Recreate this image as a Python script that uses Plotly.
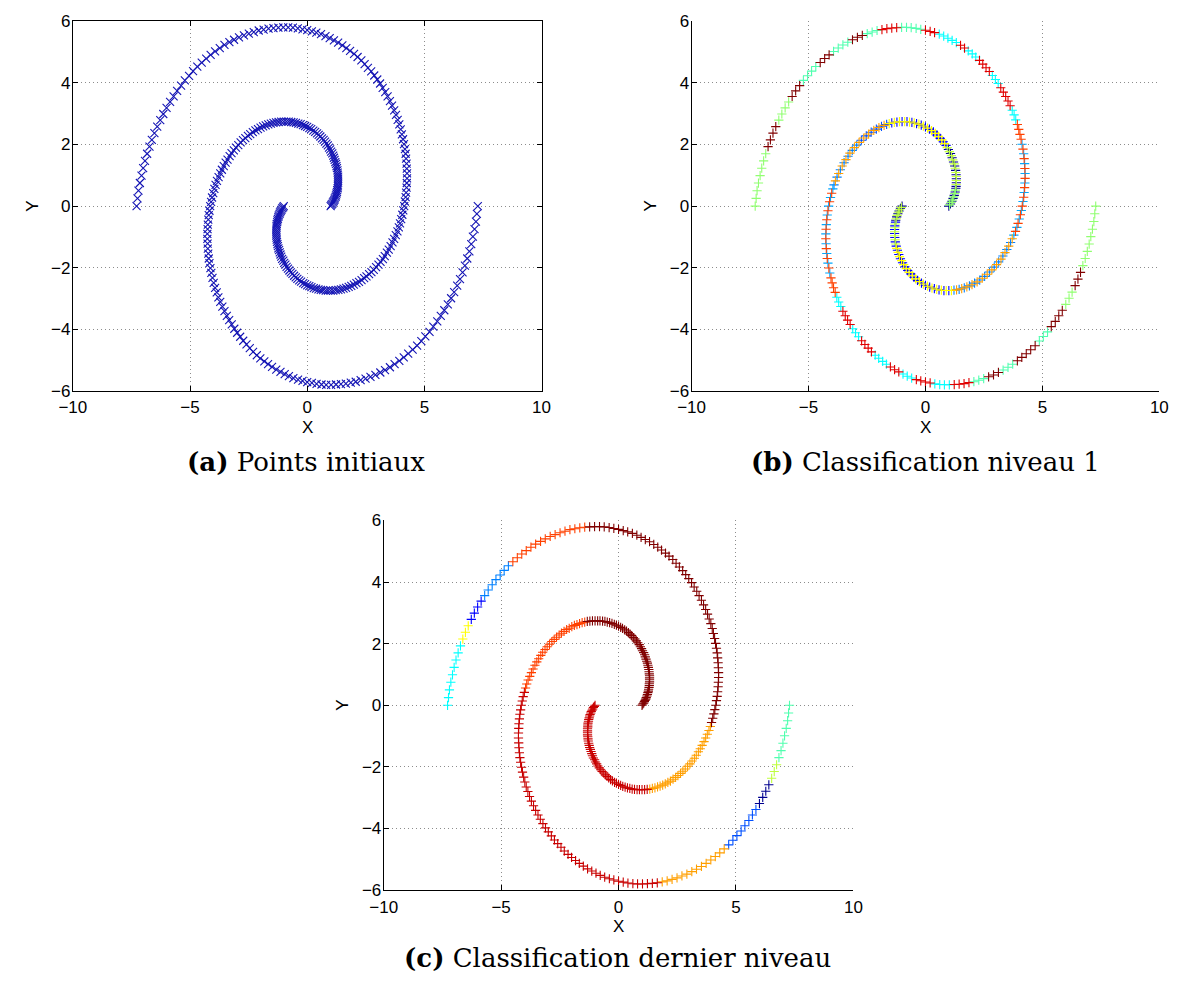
import plotly.graph_objects as go

# ---------------- data ----------------
# Arm 1 : starts near (-1, 0), winds out to (-7.28, 0)
ARM1_X = [
    -1.00, -1.03, -1.07, -1.10, -1.13, -1.16, -1.18, -1.21, -1.23, -1.25,
    -1.27, -1.28, -1.30, -1.31, -1.31, -1.32, -1.32, -1.32, -1.32, -1.31,
    -1.30, -1.29, -1.27, -1.25, -1.23, -1.20, -1.17, -1.14, -1.11, -1.07,
    -1.02, -0.98, -0.93, -0.88, -0.82, -0.76, -0.70, -0.63, -0.56, -0.49,
    -0.42, -0.34, -0.26, -0.17, -0.09, 0.00, 0.09, 0.18, 0.28, 0.38,
    0.48, 0.58, 0.68, 0.79, 0.89, 1.00, 1.11, 1.22, 1.33, 1.44,
    1.55, 1.66, 1.77, 1.88, 1.99, 2.10, 2.21, 2.32, 2.43, 2.53,
    2.64, 2.74, 2.84, 2.94, 3.04, 3.13, 3.23, 3.31, 3.40, 3.48,
    3.56, 3.64, 3.71, 3.78, 3.85, 3.91, 3.96, 4.01, 4.06, 4.10,
    4.14, 4.17, 4.20, 4.22, 4.24, 4.25, 4.26, 4.26, 4.25, 4.24,
    4.22, 4.20, 4.17, 4.13, 4.09, 4.04, 3.99, 3.93, 3.86, 3.79,
    3.71, 3.62, 3.53, 3.43, 3.33, 3.22, 3.11, 2.99, 2.86, 2.73,
    2.59, 2.45, 2.31, 2.15, 2.00, 1.83, 1.67, 1.50, 1.32, 1.14,
    0.96, 0.78, 0.59, 0.39, 0.20, 0.00, -0.20, -0.40, -0.61, -0.81,
    -1.02, -1.23, -1.44, -1.65, -1.86, -2.07, -2.28, -2.49, -2.70, -2.91,
    -3.12, -3.32, -3.53, -3.73, -3.93, -4.12, -4.31, -4.50, -4.69, -4.87,
    -5.04, -5.22, -5.38, -5.55, -5.70, -5.85, -6.00, -6.14, -6.27, -6.40,
    -6.52, -6.63, -6.73, -6.83, -6.92, -7.00, -7.07, -7.14, -7.20, -7.24,
    -7.28,
]
ARM1_Y = [
    0.00, -0.04, -0.07, -0.12, -0.16, -0.20, -0.25, -0.30, -0.35, -0.41,
    -0.46, -0.52, -0.58, -0.64, -0.70, -0.76, -0.83, -0.89, -0.96, -1.02,
    -1.09, -1.16, -1.23, -1.30, -1.37, -1.43, -1.50, -1.57, -1.64, -1.71,
    -1.77, -1.84, -1.90, -1.97, -2.03, -2.09, -2.15, -2.20, -2.26, -2.31,
    -2.36, -2.41, -2.45, -2.50, -2.53, -2.57, -2.60, -2.63, -2.66, -2.68,
    -2.70, -2.72, -2.73, -2.74, -2.74, -2.74, -2.74, -2.73, -2.72, -2.70,
    -2.68, -2.65, -2.62, -2.59, -2.55, -2.50, -2.46, -2.40, -2.34, -2.28,
    -2.21, -2.14, -2.07, -1.98, -1.90, -1.81, -1.72, -1.62, -1.51, -1.41,
    -1.30, -1.18, -1.06, -0.94, -0.82, -0.69, -0.56, -0.42, -0.28, -0.14,
    0.00, 0.15, 0.29, 0.44, 0.60, 0.75, 0.90, 1.06, 1.22, 1.38,
    1.54, 1.70, 1.85, 2.01, 2.17, 2.33, 2.49, 2.65, 2.80, 2.96,
    3.11, 3.26, 3.41, 3.56, 3.70, 3.84, 3.98, 4.11, 4.24, 4.37,
    4.49, 4.61, 4.73, 4.84, 4.94, 5.04, 5.13, 5.22, 5.31, 5.38,
    5.45, 5.52, 5.58, 5.63, 5.67, 5.71, 5.74, 5.77, 5.79, 5.80,
    5.80, 5.79, 5.78, 5.76, 5.73, 5.70, 5.65, 5.60, 5.54, 5.48,
    5.40, 5.32, 5.23, 5.13, 5.02, 4.91, 4.79, 4.66, 4.53, 4.38,
    4.23, 4.08, 3.91, 3.74, 3.56, 3.38, 3.19, 2.99, 2.79, 2.58,
    2.37, 2.15, 1.93, 1.70, 1.47, 1.23, 0.99, 0.75, 0.50, 0.25,
    0.00,
]
# Arm 2 : starts near (1, 0), winds out to (7.28, 0)
ARM2_X = [
    1.00, 1.03, 1.07, 1.10, 1.13, 1.16, 1.18, 1.21, 1.23, 1.25,
    1.27, 1.28, 1.30, 1.31, 1.31, 1.32, 1.32, 1.32, 1.32, 1.31,
    1.30, 1.29, 1.27, 1.25, 1.23, 1.20, 1.17, 1.14, 1.11, 1.07,
    1.02, 0.98, 0.93, 0.88, 0.82, 0.76, 0.70, 0.63, 0.56, 0.49,
    0.42, 0.34, 0.26, 0.17, 0.09, 0.00, -0.09, -0.18, -0.28, -0.38,
    -0.48, -0.58, -0.68, -0.79, -0.89, -1.00, -1.11, -1.22, -1.33, -1.44,
    -1.55, -1.66, -1.77, -1.88, -1.99, -2.10, -2.21, -2.32, -2.43, -2.53,
    -2.64, -2.74, -2.84, -2.94, -3.04, -3.13, -3.23, -3.31, -3.40, -3.48,
    -3.56, -3.64, -3.71, -3.78, -3.85, -3.91, -3.96, -4.01, -4.06, -4.10,
    -4.14, -4.17, -4.20, -4.22, -4.24, -4.25, -4.26, -4.26, -4.25, -4.24,
    -4.22, -4.20, -4.17, -4.13, -4.09, -4.04, -3.99, -3.93, -3.86, -3.79,
    -3.71, -3.62, -3.53, -3.43, -3.33, -3.22, -3.11, -2.99, -2.86, -2.73,
    -2.59, -2.45, -2.31, -2.15, -2.00, -1.83, -1.67, -1.50, -1.32, -1.14,
    -0.96, -0.78, -0.59, -0.39, -0.20, 0.00, 0.20, 0.40, 0.61, 0.81,
    1.02, 1.23, 1.44, 1.65, 1.86, 2.07, 2.28, 2.49, 2.70, 2.91,
    3.12, 3.32, 3.53, 3.73, 3.93, 4.12, 4.31, 4.50, 4.69, 4.87,
    5.04, 5.22, 5.38, 5.55, 5.70, 5.85, 6.00, 6.14, 6.27, 6.40,
    6.52, 6.63, 6.73, 6.83, 6.92, 7.00, 7.07, 7.14, 7.20, 7.24,
    7.28,
]
ARM2_Y = [
    0.00, 0.04, 0.07, 0.12, 0.16, 0.20, 0.25, 0.30, 0.35, 0.41,
    0.46, 0.52, 0.58, 0.64, 0.70, 0.76, 0.83, 0.89, 0.96, 1.02,
    1.09, 1.16, 1.23, 1.30, 1.37, 1.43, 1.50, 1.57, 1.64, 1.71,
    1.77, 1.84, 1.90, 1.97, 2.03, 2.09, 2.15, 2.20, 2.26, 2.31,
    2.36, 2.41, 2.45, 2.50, 2.53, 2.57, 2.60, 2.63, 2.66, 2.68,
    2.70, 2.72, 2.73, 2.74, 2.74, 2.74, 2.74, 2.73, 2.72, 2.70,
    2.68, 2.65, 2.62, 2.59, 2.55, 2.50, 2.46, 2.40, 2.34, 2.28,
    2.21, 2.14, 2.07, 1.98, 1.90, 1.81, 1.72, 1.62, 1.51, 1.41,
    1.30, 1.18, 1.06, 0.94, 0.82, 0.69, 0.56, 0.42, 0.28, 0.14,
    0.00, -0.15, -0.29, -0.44, -0.60, -0.75, -0.90, -1.06, -1.22, -1.38,
    -1.54, -1.70, -1.85, -2.01, -2.17, -2.33, -2.49, -2.65, -2.80, -2.96,
    -3.11, -3.26, -3.41, -3.56, -3.70, -3.84, -3.98, -4.11, -4.24, -4.37,
    -4.49, -4.61, -4.73, -4.84, -4.94, -5.04, -5.13, -5.22, -5.31, -5.38,
    -5.45, -5.52, -5.58, -5.63, -5.67, -5.71, -5.74, -5.77, -5.79, -5.80,
    -5.80, -5.79, -5.78, -5.76, -5.73, -5.70, -5.65, -5.60, -5.54, -5.48,
    -5.40, -5.32, -5.23, -5.13, -5.02, -4.91, -4.79, -4.66, -4.53, -4.38,
    -4.23, -4.08, -3.91, -3.74, -3.56, -3.38, -3.19, -2.99, -2.79, -2.58,
    -2.37, -2.15, -1.93, -1.70, -1.47, -1.23, -0.99, -0.75, -0.50, -0.25,
    0.00,
]

# cluster colours (jet-like)
CLUSTER_COLORS = {
    "dkblue": "#00008f", "blue": "#0000ff", "blue2": "#0050ff",
    "ltblue": "#0080ff", "ltblue2": "#00a8ff", "cyan": "#00ffff",
    "aqua": "#50ffaf", "lgreen": "#90ff70", "ygreen": "#bfff40",
    "yellow": "#ffff00", "orange": "#ff9f00", "orred": "#ff4000",
    "red": "#e00000", "dkred": "#c80000", "maroon": "#800000",
}

# cluster labels along each arm: (first index, last index, labels alternating)
LEVEL1_ARM1 = [
    (0, 10, "dkblue", "ygreen"), (11, 22, "blue", "ygreen"),
    (23, 56, "blue", "yellow"), (57, 82, "ltblue", "orange"),
    (83, 104, "ltblue2", "orred"), (105, 107, "orred"),
    (108, 110, "cyan"), (111, 115, "red"), (116, 118, "cyan"),
    (119, 122, "red"), (123, 125, "cyan"), (126, 127, "red"),
    (128, 132, "cyan"), (133, 135, "red"), (136, 140, "aqua"),
    (141, 144, "red"), (145, 147, "aqua"), (148, 150, "maroon"),
    (151, 154, "aqua"), (155, 157, "maroon"), (158, 161, "aqua"),
    (162, 164, "maroon"), (165, 168, "lgreen"), (169, 172, "maroon"),
    (173, 180, "lgreen"),
]
LEVEL1_ARM2 = [
    (0, 12, "dkblue", "lgreen"), (13, 32, "dkblue", "ygreen"),
    (33, 60, "blue", "yellow"), (61, 72, "blue2", "orange"),
    (73, 85, "ltblue", "orange"), (86, 104, "ltblue2", "orred"),
    (105, 108, "orred"), (109, 111, "cyan"), (112, 115, "red"),
    (116, 118, "cyan"), (119, 122, "red"), (123, 126, "cyan"),
    (127, 129, "red"), (130, 132, "cyan"), (133, 136, "red"),
    (137, 140, "cyan"), (141, 144, "red"), (145, 147, "aqua"),
    (148, 150, "maroon"), (151, 153, "aqua"), (154, 158, "maroon"),
    (159, 161, "aqua"), (162, 165, "maroon"), (166, 168, "lgreen"),
    (169, 171, "maroon"), (172, 180, "lgreen"),
]
LAST_ARM1 = [
    (0, 57, "dkred"), (58, 85, "orange"), (86, 141, "maroon"),
    (142, 157, "orred"), (158, 164, "ltblue"), (165, 168, "blue"),
    (169, 171, "yellow"), (172, 180, "cyan"),
]
LAST_ARM2 = [
    (0, 58, "maroon"), (59, 86, "orred"), (87, 143, "dkred"),
    (144, 157, "orange"), (158, 165, "blue2"), (166, 169, "dkblue"),
    (170, 172, "ygreen"), (173, 180, "aqua"),
]

TICKS_X = [-10, -5, 0, 5, 10]
TICKS_Y = [-6, -4, -2, 0, 2, 4, 6]
CAPTIONS = [("(a)", "Points initiaux"), ("(b)", "Classification niveau 1"),
            ("(c)", "Classification dernier niveau")]


def expand(segs, n):
    out = [None] * n
    for seg in segs:
        a, b, cols = seg[0], seg[1], seg[2:]
        for i in range(a, b + 1):
            out[i] = cols[(i - a) % len(cols)]
    return out


W, H = 1185, 984
fig = go.Figure()

# panel (a)
fig.add_trace(go.Scatter(
    x=ARM1_X + ARM2_X, y=ARM1_Y + ARM2_Y, mode="markers",
    marker=dict(symbol="x-thin", size=8, line=dict(width=1.1, color="#1414b4"),
                color="#1414b4"),
    xaxis="x", yaxis="y", hoverinfo="skip"))


def add_clusters(l1, l2, xa, ya):
    lab = expand(l1, len(ARM1_X)) + expand(l2, len(ARM2_X))
    xs = ARM1_X + ARM2_X
    ys = ARM1_Y + ARM2_Y
    for name, col in CLUSTER_COLORS.items():
        idx = [i for i, c in enumerate(lab) if c == name]
        if not idx:
            continue
        fig.add_trace(go.Scatter(
            x=[xs[i] for i in idx], y=[ys[i] for i in idx], mode="markers",
            marker=dict(symbol="cross-thin", size=6.6, color=col,
                        line=dict(width=1.1, color=col)),
            xaxis=xa, yaxis=ya, hoverinfo="skip"))


add_clusters(LEVEL1_ARM1, LEVEL1_ARM2, "x2", "y2")
add_clusters(LAST_ARM1, LAST_ARM2, "x3", "y3")


def px_dom(a, b, total, flip=False):
    if flip:
        return [1 - b / total, 1 - a / total]
    return [a / total, b / total]


tickfont = dict(family="Liberation Sans, Arial, sans-serif", size=17, color="black")


def axis(dom, rng, ticks, anchor, mirror, standoff):
    return dict(domain=dom, range=rng, tickvals=ticks, ticks="inside", ticklen=5,
                tickcolor="black", showline=True, linecolor="black", linewidth=1,
                mirror=mirror, showgrid=True, gridcolor="#8c8c8c", griddash="1px,3px",
                gridwidth=1, zeroline=False, tickfont=tickfont, anchor=anchor,
                ticklabelstandoff=standoff, fixedrange=True)


PANELS = {
    "a": dict(x0=60, x1=538, y0=12.5, y1=389.5),
    "b": dict(x0=691, x1=1168, y0=12.5, y1=389.5),
    "c": dict(x0=377, x1=856, y0=521.5, y1=898.5),
}
layout_axes = {}
for i, (key, p) in enumerate(PANELS.items()):
    sfx = "" if i == 0 else str(i + 1)
    mirror = "ticks" if key == "a" else False
    layout_axes["xaxis" + sfx] = axis(px_dom(p["x0"], p["x1"], W), [-10, 10], TICKS_X,
                                      "y" + sfx, mirror, 1)
    layout_axes["yaxis" + sfx] = axis(px_dom(p["y0"], p["y1"], H, flip=True), [-6, 6],
                                      TICKS_Y, "x" + sfx, mirror, -2)

annotations = []
for key, p in PANELS.items():
    cx = (p["x0"] + p["x1"]) / 2
    cy = (p["y0"] + p["y1"]) / 2
    annotations.append(dict(x=cx / W, y=1 - (p["y1"] + 37) / H, xref="paper", yref="paper",
                            text="X", showarrow=False, xanchor="center", yanchor="middle",
                            font=dict(family="Liberation Sans, Arial", size=17, color="black")))
    annotations.append(dict(x=(p["x0"] - 42) / W, y=1 - cy / H, xref="paper", yref="paper",
                            text="Y", showarrow=False, xanchor="center", yanchor="middle",
                            textangle=-90,
                            font=dict(family="Liberation Sans, Arial", size=17, color="black")))
cap_pos = [(298, 462), (930, 462), (615, 968)]
for (lbl, txt), (cx, cy) in zip(CAPTIONS, cap_pos):
    annotations.append(dict(x=cx / W, y=1 - cy / H, xref="paper", yref="paper",
                            text="<b>" + lbl + "</b> " + txt, showarrow=False,
                            xanchor="center", yanchor="middle",
                            font=dict(family="DejaVu Serif, serif", size=26, color="black")))

fig.update_layout(width=W, height=H, margin=dict(l=0, r=0, t=0, b=0),
                  paper_bgcolor="white", plot_bgcolor="white", showlegend=False,
                  annotations=annotations, **layout_axes)

fig.write_html("out.html", config={"displayModeBar": False},
               post_script="document.body.style.margin='0';"
                           "document.body.style.overflow='hidden';")
